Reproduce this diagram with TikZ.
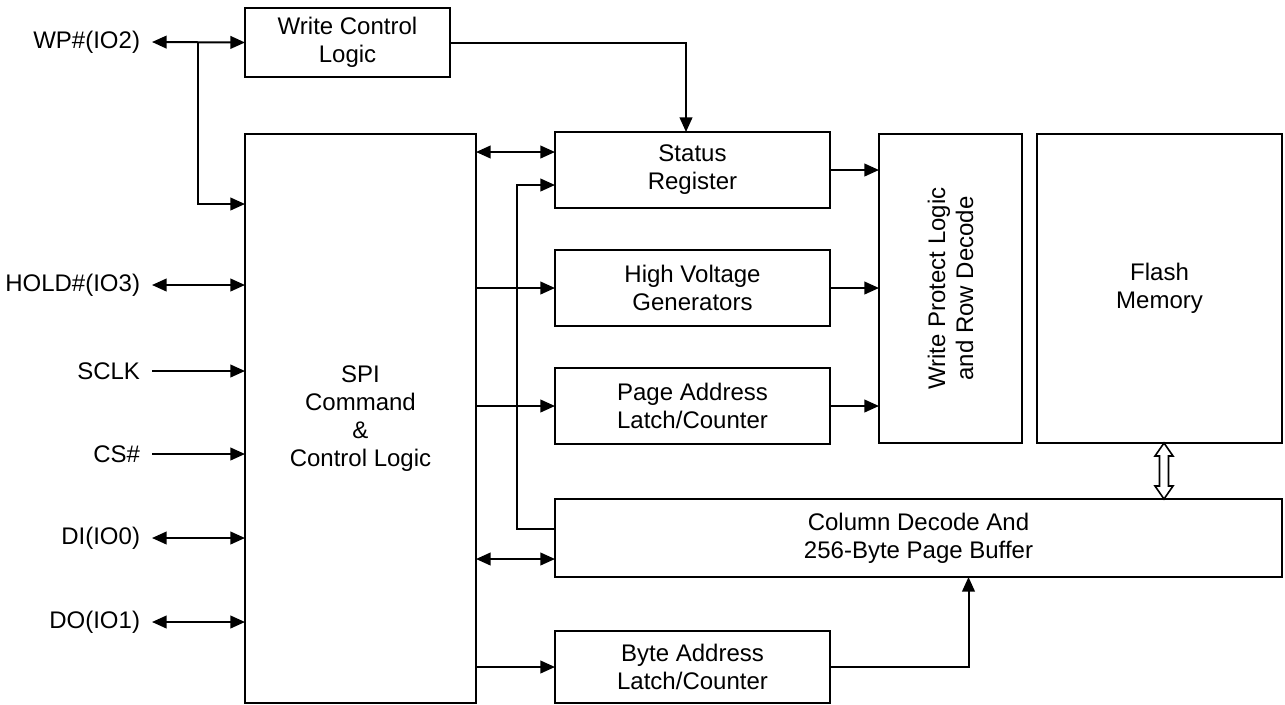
\documentclass[tikz,border=0pt]{standalone}
\usepackage{fontspec}
\setmainfont{Liberation Sans}
\usetikzlibrary{arrows.meta}

\begin{document}
\begin{tikzpicture}[x=0.75pt,y=0.75pt,yscale=-1,xscale=1,
	line width=1.5pt,
	>={Triangle[length=11pt,width=9.5pt]},
	blk/.style={draw,inner sep=0pt,outer sep=0pt,align=center,font=\fontsize{18}{21}\selectfont},
	pin/.style={anchor=east,inner xsep=9pt,inner ysep=0pt,outer sep=0pt,font=\fontsize{18}{21}\selectfont}]
	\useasboundingbox (0,0) rectangle (1285,704);

	%Shape: Rectangle [Write Control Logic]
	\node [blk,minimum width=153.75pt,minimum height=51.75pt] (wcl) at (347.5,42.5) {Write Control\\Logic};
	%Shape: Rectangle [SPI]
	\node [blk,minimum width=173.25pt,minimum height=426.75pt] (spi) at (360.5,418.5) {SPI\\Command\\\&\\Control Logic};
	%Shape: Rectangle [Status]
	\node [blk,minimum width=206.25pt,minimum height=57pt] (status) at (692.5,170) {Status\\Register};
	%Shape: Rectangle [HV]
	\node [blk,minimum width=206.25pt,minimum height=57pt] (hv) at (692.5,288) {High Voltage\\Generators};
	%Shape: Rectangle [Page]
	\node [blk,minimum width=206.25pt,minimum height=57pt] (page) at (692.5,406) {Page Address\\Latch/Counter};
	%Shape: Rectangle [Column]
	\node [blk,minimum width=545.25pt,minimum height=58.5pt] (col) at (918.5,538) {Column Decode And\\256-Byte Page Buffer};
	%Shape: Rectangle [Byte]
	\node [blk,minimum width=206.25pt,minimum height=54pt] (byte) at (692.5,667) {Byte Address\\Latch/Counter};
	%Shape: Rectangle [Write Protect]
	\node [blk,minimum width=107.25pt,minimum height=231.75pt] (wpr) at (950.5,288.5) {};
	\node [blk,draw=none,rotate=90] at (wpr) {Write Protect Logic\\and Row Decode};
	%Shape: Rectangle [Flash]
	\node [blk,minimum width=183.75pt,minimum height=231.75pt] (flash) at (1159.5,288.5) {Flash\\Memory};

	% Text Node
	\node [pin] (wp) at (152,42) {WP\#(IO2)};
	% Text Node
	\node [pin] (hold) at (152,285) {HOLD\#(IO3)};
	% Text Node
	\node [pin] (sclk) at (152,371) {SCLK};
	% Text Node
	\node [pin] (cs) at (152,454) {CS\#};
	% Text Node
	\node [pin] (di) at (152,538) {DI(IO0)};
	% Text Node
	\node [pin] (do) at (152,622) {DO(IO1)};

	%Straight Lines [pins]
	\draw [<->] (wp.east) -- (wcl.west);
	\coordinate (wpj) at (198,42);
	\draw [->] (wpj) |- ([yshift=52.5pt]spi.north west);
	\draw [<->] (hold.east) -- (hold -| spi.west);
	\draw [->] (sclk.east) -- (sclk -| spi.west);
	\draw [->] (cs.east) -- (cs -| spi.west);
	\draw [<->] (di.east) -- (di -| spi.west);
	\draw [<->] (do.east) -- (do -| spi.west);

	%Straight Lines [spi outputs]
	\draw [->] (wcl.east) -| ([xshift=-4.875pt]status.north);
	\draw [<->] ([yshift=-13.5pt]status.west -| spi.east) -- ([yshift=-13.5pt]status.west);
	\draw [->] ([yshift=-6.75pt]col.west) -- ++(-38,0) |- ([yshift=11.25pt]status.west);
	\draw [->] (spi.east |- hv.west) -- (hv.west);
	\draw [->] (spi.east |- page.west) -- (page.west);
	\draw [<->] ([yshift=15.75pt]col.west -| spi.east) -- ([yshift=15.75pt]col.west);
	\draw [->] (spi.east |- byte.west) -- (byte.west);

	%Straight Lines [decode]
	\draw [->] (status.east) -- (status.east -| wpr.west);
	\draw [->] (hv.east) -- (hv.east -| wpr.west);
	\draw [->] (page.east) -- (page.east -| wpr.west);
	\draw [->] (byte.east) -| ([xshift=37.5pt]col.south);

	%Shape: Double Arrow [flash to buffer]
	\draw [line width=1.2pt,fill=white] ([xshift=3.375pt]flash.south) -- ++(9,13) -- ++(-4.5,0) -- ++(0,30) -- ++(4.5,0) -- ++(-9,13) -- ++(-9,-13) -- ++(4.5,0) -- ++(0,-30) -- ++(-4.5,0) -- cycle;

\end{tikzpicture}
\end{document}
